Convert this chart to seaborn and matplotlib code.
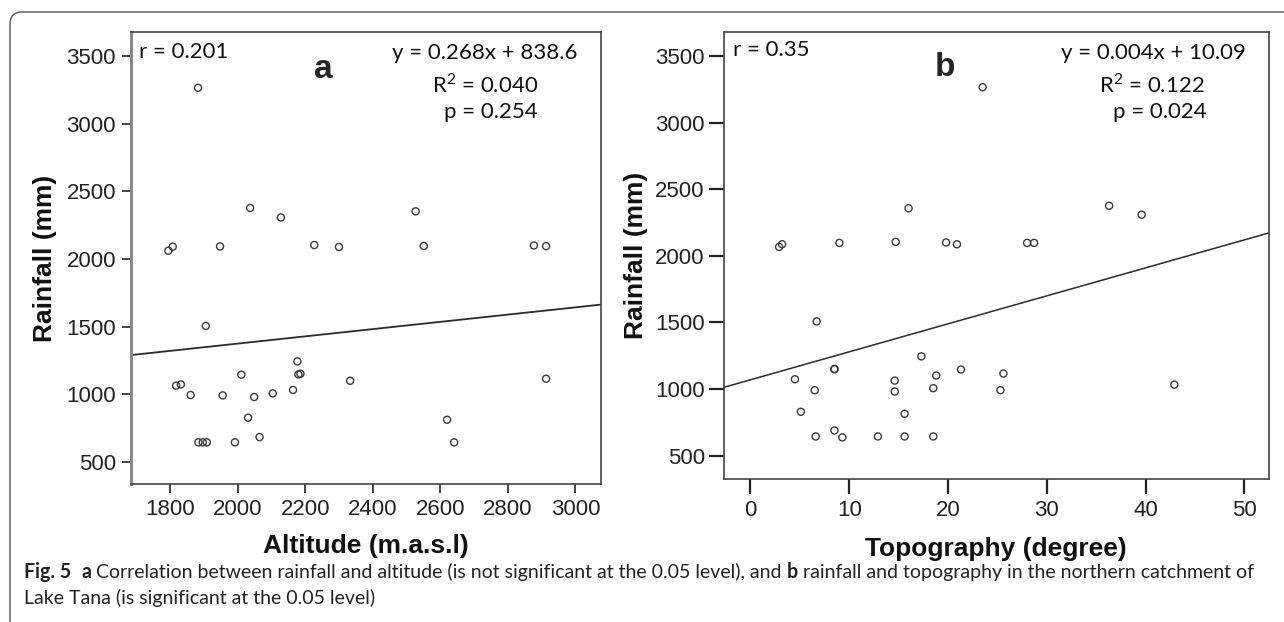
import numpy as np
import pandas as pd
import seaborn as sns
from matplotlib import pyplot as plt
from matplotlib.patches import FancyBboxPatch
from matplotlib.transforms import IdentityTransform

# Panel a: altitude vs rainfall
altitude = [1883, 1795, 1808, 1948, 2037, 2128, 2227, 2300, 2527, 2551, 2877, 2913,
            1906, 1818, 1832, 1861, 1956, 2011, 2049, 2104, 2164, 2177, 2180, 2186,
            2333, 2913, 2031, 2065, 1992, 1884, 1897, 1909, 2620, 2641]
rain_a = [3265, 2061, 2091, 2093, 2377, 2307, 2103, 2089, 2352, 2096, 2100, 2095,
          1505, 1064, 1073, 995, 992, 1145, 980, 1007, 1032, 1243, 1147, 1152,
          1100, 1115, 827, 684, 645, 645, 645, 645, 812, 645]

# Panel b: topography (slope degree) vs rainfall
topo = [23.5, 16.0, 36.3, 39.6, 2.9, 3.2, 9.0, 14.7, 19.8, 20.9, 28.0, 28.7,
        6.7, 17.3, 8.5, 8.5, 4.5, 6.5, 5.1, 14.6, 14.6, 15.6, 18.8, 18.5, 21.3, 25.6, 25.3,
        6.6, 8.5, 9.3, 12.9, 15.6, 18.5, 42.9]
rain_b = [3265, 2357, 2376, 2309, 2067, 2087, 2097, 2105, 2100, 2087, 2097, 2097,
          1508, 1246, 1149, 1152, 1074, 992, 830, 1064, 982, 815, 1102, 1007, 1147, 1117, 992,
          645, 690, 638, 645, 645, 645, 1034]

# fitted lines (slope, intercept)
fit_a = (0.268, 838.6)
fit_b = (21.0, 1070.0)

stats_a = ["r = 0.201", "y = 0.268x + 838.6", "R$^2$ = 0.040", "p = 0.254"]
stats_b = ["r = 0.35", "y = 0.004x + 10.09", "R$^2$ = 0.122", "p = 0.024"]

caption_1 = [("Fig. 5", True), ("  ", False), ("a", True),
             (" Correlation between rainfall and altitude (is not significant at the 0.05 level), and ", False),
             ("b", True), (" rainfall and topography in the northern catchment of", False)]
caption_2 = [("Lake Tana (is significant at the 0.05 level)", False)]

df_a = pd.DataFrame({"alt": altitude, "rain": rain_a})
df_b = pd.DataFrame({"topo": topo, "rain": rain_b})

sns.set_style("white")
plt.rcParams["font.family"] = ["Liberation Sans", "DejaVu Sans"]
plt.rcParams["mathtext.fontset"] = "custom"
plt.rcParams["mathtext.rm"] = "Lato"

W, H = 1284, 622
fig = plt.figure(figsize=(W / 100, H / 100), dpi=100)


def rect(l, t, r, b):
    return [l / W, 1 - b / H, (r - l) / W, (b - t) / H]


def fx(x, y):
    return x / W, 1 - y / H


ax_a = fig.add_axes(rect(130.5, 32.3, 600.8, 484.3))
ax_b = fig.add_axes(rect(723.5, 32.3, 1268.6, 478.7))

pt_kw = dict(marker="o", s=26, facecolor="none", edgecolor="#3a3a3a", linewidth=1.0)
sns.scatterplot(data=df_a, x="alt", y="rain", ax=ax_a, **pt_kw)
sns.scatterplot(data=df_b, x="topo", y="rain", ax=ax_b, **pt_kw)

ax_a.set_xlim(1683, 3075)
ax_a.set_ylim(335, 3675)
ax_b.set_xlim(-2.73, 52.44)
ax_b.set_ylim(328, 3677)

ax_a.axline((0, fit_a[1]), slope=fit_a[0], color="#2a2a2a", lw=1.3)
ax_b.axline((0, fit_b[1]), slope=fit_b[0], color="#2a2a2a", lw=1.1)

ax_a.set_xticks(np.arange(1800, 3001, 200))
ax_b.set_xticks(np.arange(0, 51, 10))
for ax in (ax_a, ax_b):
    ax.set_yticks(np.arange(500, 3501, 500))
    for sp in ax.spines.values():
        sp.set_visible(True)
        sp.set_color("#444444")
        sp.set_linewidth(1.2)
    ax.tick_params(labelsize=16, colors="#222222", left=True, bottom=True)
ax_a.spines["left"].set_color("#8a8a8a")
ax_a.spines["left"].set_linewidth(2.2)
ax_a.tick_params(length=6.5, width=1.2, pad=4)
ax_b.tick_params(length=10.5, width=1.6, pad=3)
ax_b.tick_params(axis="x", pad=5)

lab_kw = dict(fontsize=19, fontweight="bold", color="#111111")
ax_a.set_xlabel("Altitude (m.a.s.l)", **lab_kw)
ax_a.set_ylabel("Rainfall (mm)", **lab_kw)
ax_b.set_xlabel("Topography (degree)", **lab_kw)
ax_b.set_ylabel("Rainfall (mm)", **lab_kw)
ax_a.xaxis.set_label_coords(0.5, -0.11)
ax_b.xaxis.set_label_coords(0.5, -0.13)
ax_a.yaxis.set_label_coords(-0.156, 0.5)
ax_b.yaxis.set_label_coords(-0.138, 0.5)

# in-plot statistics
st_kw = dict(fontsize=16, family=["Lato", "DejaVu Sans"], color="#111111", va="center")
fig.text(*fx(139, 51.7), stats_a[0], ha="left", **st_kw)
fig.text(*fx(485, 53.3), stats_a[1], ha="center", **st_kw)
fig.text(*fx(485, 85), stats_a[2], ha="center", **st_kw)
fig.text(*fx(491, 111.7), stats_a[3], ha="center", **st_kw)
fig.text(*fx(733, 50), stats_b[0], ha="left", **st_kw)
fig.text(*fx(1153, 53.3), stats_b[1], ha="center", **st_kw)
fig.text(*fx(1152, 85), stats_b[2], ha="center", **st_kw)
fig.text(*fx(1160, 111.7), stats_b[3], ha="center", **st_kw)
fig.text(*fx(323.5, 70), "a", ha="center", va="center", fontsize=24, fontweight="bold")
fig.text(*fx(945, 68), "b", ha="center", va="center", fontsize=24, fontweight="bold")

# outer frame with rounded corner
frame = FancyBboxPatch((10, -40), 1320, H - 12 + 40, boxstyle="round,pad=0,rounding_size=12",
                       transform=IdentityTransform(), fill=False, ec="#555555", lw=1.0)
fig.add_artist(frame)

# caption with mixed bold pieces, size chosen so line 1 spans the reference width
cap_fam = ["Lato", "DejaVu Sans"]
renderer = fig.canvas.get_renderer()


def caption_line(pieces, x0, y0, size):
    x = x0
    for txt, bold in pieces:
        t = fig.text(x / W, 1 - y0 / H, txt, fontsize=size, family=cap_fam,
                     fontweight="bold" if bold else "normal", color="#222222",
                     ha="left", va="baseline")
        x += t.get_window_extent(renderer).width
    return x - x0, fig.texts[-len(pieces):]


width, made = caption_line(caption_1, 24, 578, 13)
for t in made:
    t.remove()
size = 13 * 1228 / width
caption_line(caption_1, 24, 578, size)
caption_line(caption_2, 24, 604, size)

plt.savefig("out.png", dpi=100)
